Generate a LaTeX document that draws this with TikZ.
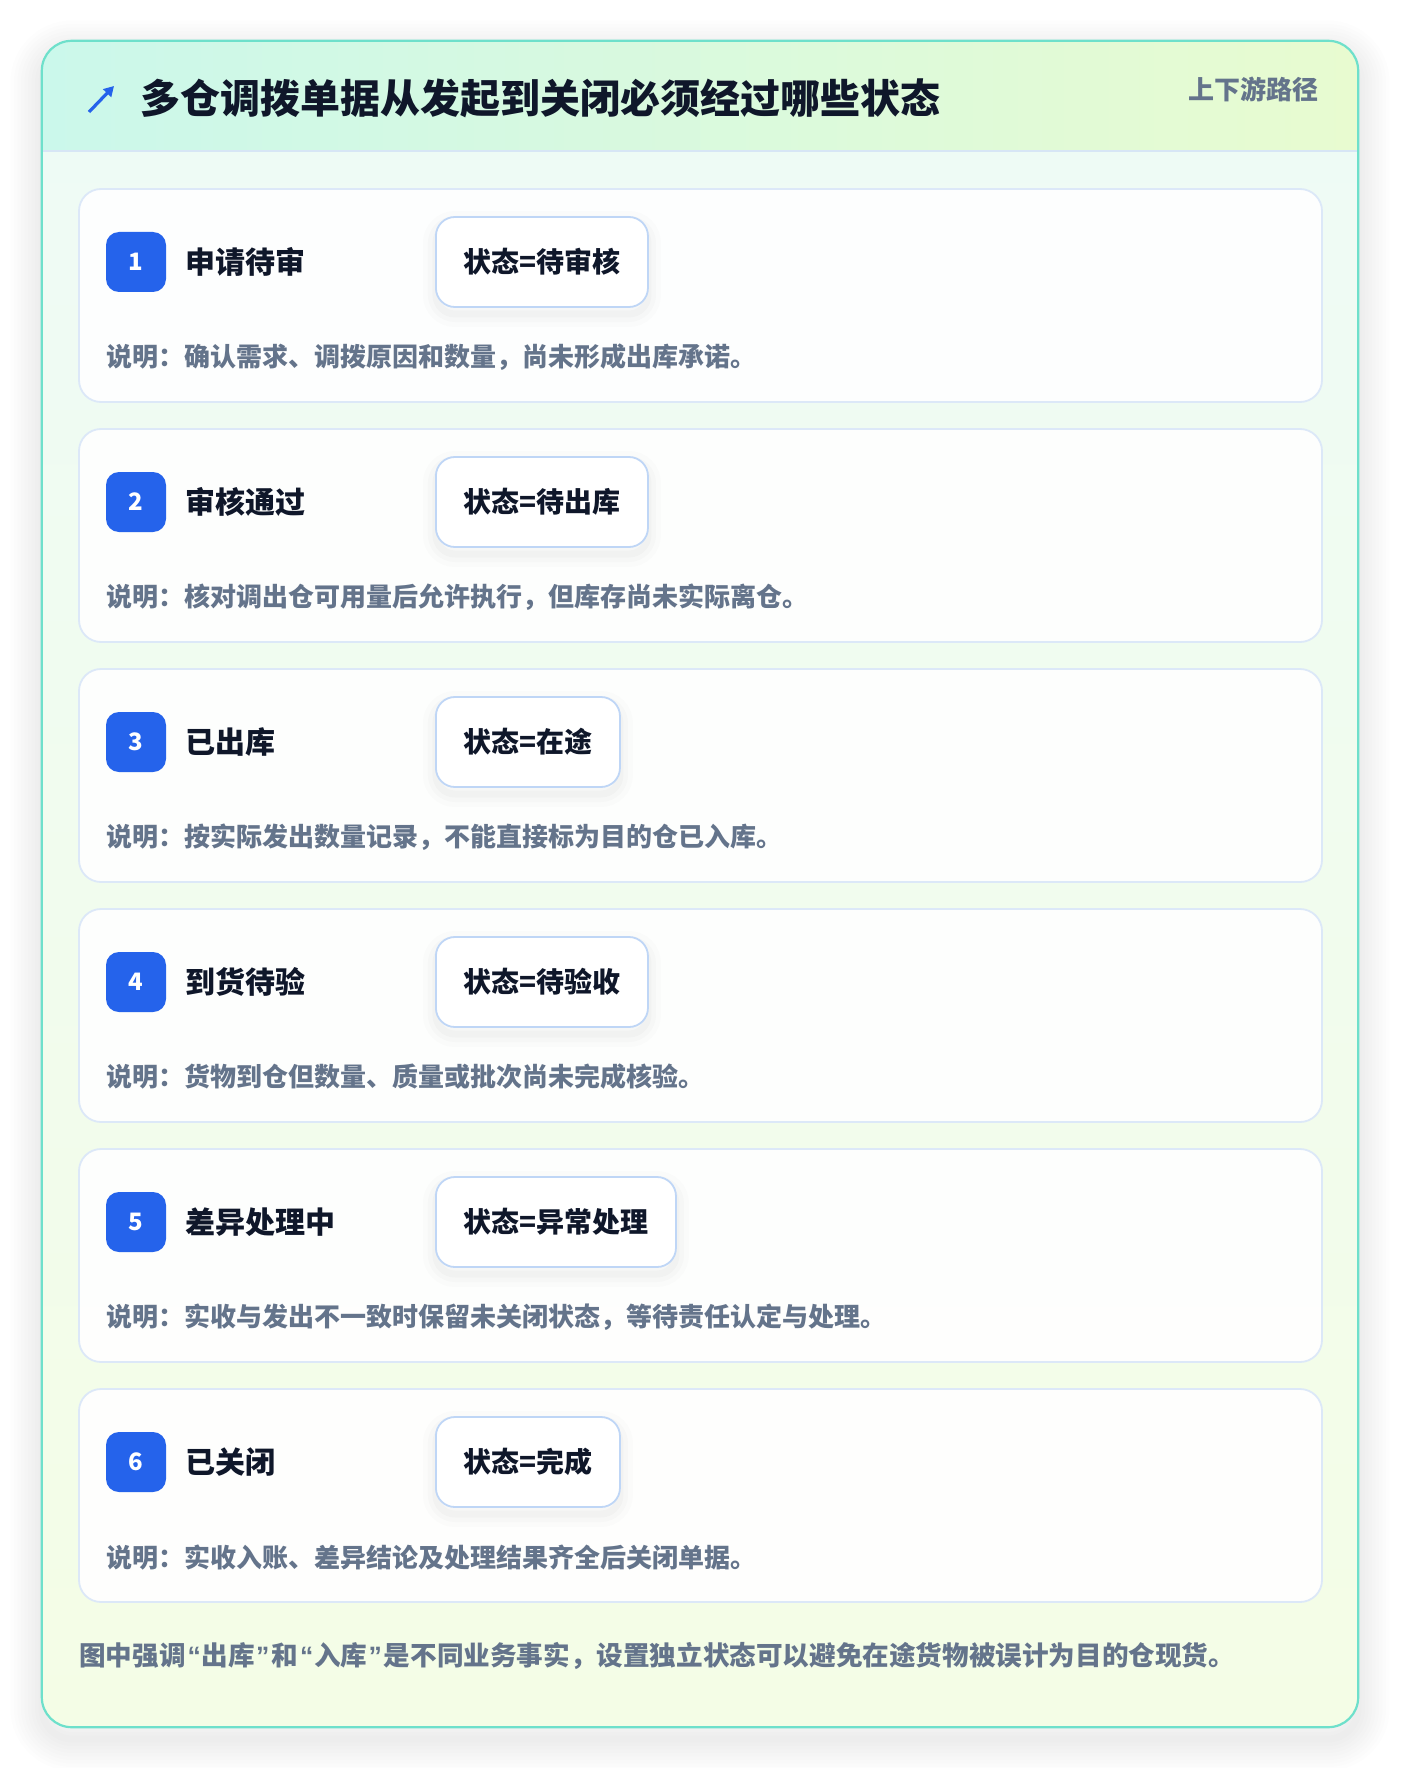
\documentclass[tikz,border=0pt]{standalone}
\usepackage{fontspec}
\setmainfont{Noto Sans CJK SC}
\newfontfamily\quotefont{Liberation Sans}
\usetikzlibrary{arrows.meta}
\definecolor{outerborder}{HTML}{6EE0CB}
\definecolor{headleft}{HTML}{CBF8EB}
\definecolor{headright}{HTML}{E8FBD0}
\definecolor{headline}{HTML}{D7E6F5}
\definecolor{bodytop}{HTML}{EEFBF6}
\definecolor{bodybottom}{HTML}{F4FDE6}
\definecolor{cardborder}{HTML}{DCE8F8}
\definecolor{badgeblue}{HTML}{2563EB}
\definecolor{labeltext}{HTML}{0F172A}
\definecolor{desctext}{HTML}{64748B}
\definecolor{stateborder}{HTML}{BFD6F6}
\newcommand{\myopenq}{\kern2pt{\quotefont\bfseries “}\kern1pt}
\newcommand{\mycloseq}{\kern1pt{\quotefont\bfseries ”}\kern2pt}
\tikzset{
  outercard/.style={rounded corners=30pt, minimum width=1316pt, minimum height=1686pt, inner sep=0pt,
    top color=bodytop, bottom color=bodybottom, draw=none},
  card/.style={draw=cardborder, line width=1.8pt, fill=white, fill opacity=0.92, draw opacity=1,
    rounded corners=22pt, minimum width=1243pt, minimum height=213pt, inner sep=0pt},
  badge/.style={fill=badgeblue, rounded corners=13pt, minimum size=60pt, inner sep=0pt,
    text=white, font=\bfseries\fontsize{24}{24}\selectfont},
  lbl/.style={anchor=west, inner sep=0pt, text=labeltext, font=\bfseries\fontsize{30}{30}\selectfont},
  softshadow/.style={
    preaction={draw=black, draw opacity=0.012, line width=26pt, transform canvas={yshift=-7pt}},
    preaction={draw=black, draw opacity=0.016, line width=16pt, transform canvas={yshift=-7pt}},
    preaction={draw=black, draw opacity=0.02, line width=7pt, transform canvas={yshift=-7pt}}},
  statebox/.style={anchor=west, draw=stateborder, line width=1.8pt, fill=white, rounded corners=19pt,
    minimum height=90pt, inner xsep=27.5pt, inner ysep=0pt, text=labeltext,
    font=\bfseries\fontsize{28}{28}\selectfont, softshadow},
  desc/.style={anchor=west, inner sep=0pt, text=desctext, font=\bfseries\fontsize{26}{26}\selectfont},
  icon/.style={draw=badgeblue, line width=3.2pt, -{Triangle[length=10pt,width=11pt]}},
}
\begin{document}
\begin{tikzpicture}[x=1pt,y=-1pt]
\useasboundingbox (0,0) rectangle (1400,1768);
\fill[white] (0,0) rectangle (1400,1768);
% outer shadow
\foreach \k in {1,...,9}{
  \draw[black, draw opacity=0.009, line width=\k*7pt, rounded corners=30pt] (42,52) rectangle (1358,1739);
}
% outer card
\node[outercard] (outer) at (700,884) {};
\begin{scope}
  \clip[rounded corners=30pt] (42,41) rectangle (1358,1727);
  \shade[left color=headleft, right color=headright] (42,41) rectangle (1358,151);
\end{scope}
\draw[headline, line width=2pt] (43,151) -- (1357,151);
\draw[outerborder, line width=2.2pt, rounded corners=30pt] (outer.north west) rectangle (outer.south east);
% header
\coordinate (arrowtail) at (89,112);
\coordinate (arrowhead) at (114,86);
\draw[icon] (arrowtail) -- (arrowhead);
\node[anchor=west, inner sep=0pt, text=labeltext, font=\bfseries\fontsize{40}{40}\selectfont] (title) at (140,98) {多仓调拨单据从发起到关闭必须经过哪些状态};
\node[anchor=east, inner sep=0pt, text=desctext, font=\bfseries\fontsize{26}{26}\selectfont] (sub) at (1319,89) {上下游路径};
% steps
\foreach \i/\lab/\st/\ds in {
  1/申请待审/状态=待审核/说明：确认需求、调拨原因和数量，尚未形成出库承诺。,
  2/审核通过/状态=待出库/说明：核对调出仓可用量后允许执行，但库存尚未实际离仓。,
  3/已出库/状态=在途/说明：按实际发出数量记录，不能直接标为目的仓已入库。,
  4/到货待验/状态=待验收/说明：货物到仓但数量、质量或批次尚未完成核验。,
  5/差异处理中/状态=异常处理/说明：实收与发出不一致时保留未关闭状态，等待责任认定与处理。,
  6/已关闭/状态=完成/说明：实收入账、差异结论及处理结果齐全后关闭单据。}{
  \pgfmathsetmacro\ty{189+240*(\i-1)}
  \node[card] (card\i) at (700.5,\ty+106.5) {};
  \node[badge] (badge\i) at (136,\ty+73) {\i};
  \node[lbl] (label\i) at (185,\ty+73) {\lab};
  \node[statebox] (state\i) at (435,\ty+73) {\st};
  \node[desc] (desc\i) at (106,\ty+168) {\ds};
}
\node[desc, font=\bfseries\fontsize{26.6}{26.6}\selectfont] (footer) at (79,1656) {图中强调\myopenq 出库\mycloseq 和\myopenq 入库\mycloseq 是不同业务事实，设置独立状态可以避免在途货物被误计为目的仓现货。};
\end{tikzpicture}
\end{document}
